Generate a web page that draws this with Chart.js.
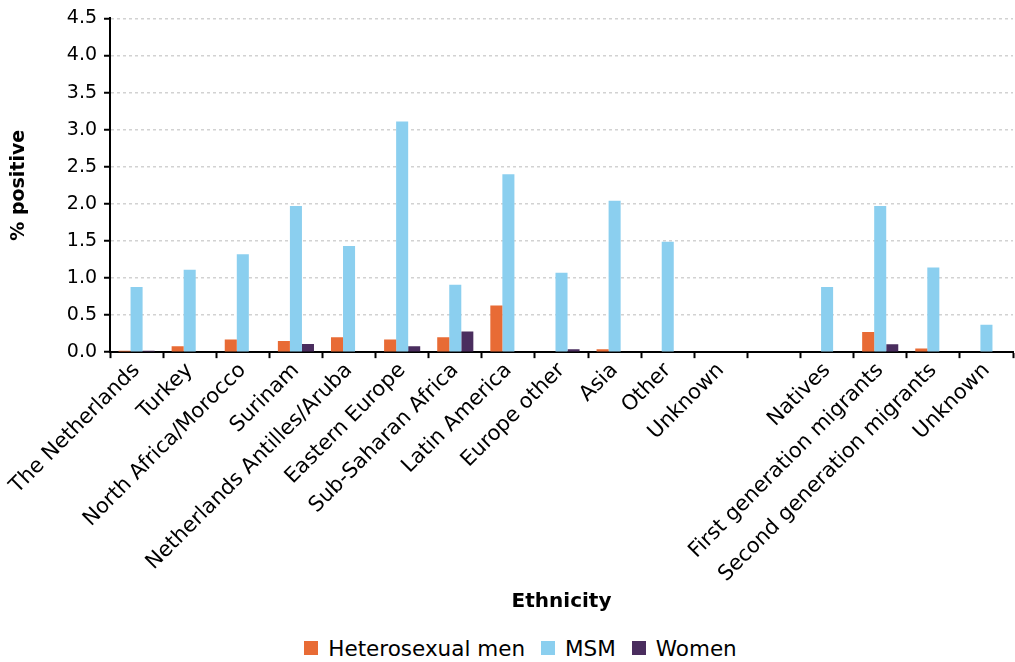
<!DOCTYPE html>
<html>
<head>
<meta charset="utf-8">
<script src="https://cdn.jsdelivr.net/npm/chart.js@4.4.0/dist/chart.umd.min.js"></script>
<style>
  html, body { margin: 0; padding: 0; background: #fff; }
  #wrap { position: relative; width: 1015px; height: 662px; overflow: hidden; }
  #chartBox { position: absolute; left: 0; top: 0; width: 1015px; height: 628px; }
  #legend {
    position: absolute; left: 0; top: 636px; width: 1015px; height: 24px;
    display: flex; justify-content: center; align-items: center;
    font-family: 'DejaVu Sans', sans-serif; font-size: 21.5px; color: #000;
    padding-left: 26px; box-sizing: border-box;
  }
  .legend-item { display: flex; align-items: center; margin: 0 8px; }
  .legend-swatch { width: 14px; height: 14px; margin-right: 10px; }
</style>
</head>
<body>
<div id="wrap">
  <div id="chartBox"><canvas id="hivChart"></canvas></div>
  <div id="legend"></div>
</div>
<script>
// Categories (empty slot separates the two groupings)
const categories = [
    'The Netherlands', 'Turkey', 'North Africa/Morocco', 'Surinam',
    'Netherlands Antilles/Aruba', 'Eastern Europe', 'Sub-Saharan Africa',
    'Latin America', 'Europe other', 'Asia', 'Other', 'Unknown', '',
    'Natives', 'First generation migrants', 'Second generation migrants', 'Unknown'
];

// % positive per group
const heteroMen = [0.02, 0.08, 0.17, 0.15, 0.20, 0.17, 0.20, 0.63, 0, 0.04, 0, 0, null, 0.01, 0.27, 0.05, 0];
const msm       = [0.88, 1.11, 1.32, 1.97, 1.43, 3.11, 0.91, 2.40, 1.07, 2.04, 1.49, 0, null, 0.88, 1.97, 1.14, 0.37];
const women     = [0.02, 0, 0, 0.11, 0, 0.08, 0.28, 0, 0.04, 0, 0, 0, null, 0.01, 0.105, 0.01, 0];

const yTicks = [0, 0.5, 1.0, 1.5, 2.0, 2.5, 3.0, 3.5, 4.0, 4.5];

const fontFamily = "'DejaVu Sans', 'Open Sans', sans-serif";

// Legend is built as html so the spacing between items can match
function buildLegend(chart) {
    const box = document.getElementById('legend');
    box.innerHTML = '';
    chart.data.datasets.forEach(ds => {
        const item = document.createElement('span');
        item.className = 'legend-item';
        const sw = document.createElement('span');
        sw.className = 'legend-swatch';
        sw.style.background = ds.backgroundColor;
        const txt = document.createElement('span');
        txt.textContent = ds.label;
        item.appendChild(sw);
        item.appendChild(txt);
        box.appendChild(item);
    });
}

function initChart() {
    const ctx = document.getElementById('hivChart').getContext('2d');

    const chart = new Chart(ctx, {
        type: 'bar',
        data: {
            labels: categories,
            datasets: [
                { label: 'Heterosexual men', data: heteroMen, backgroundColor: '#E86B35' },
                { label: 'MSM', data: msm, backgroundColor: '#8BCFEF' },
                { label: 'Women', data: women, backgroundColor: '#4A2D5E' }
            ]
        },
        options: {
            responsive: true,
            maintainAspectRatio: false,
            animation: false,
            layout: { padding: { top: 8, right: 2, left: 8, bottom: 0 } },
            datasets: {
                bar: { categoryPercentage: 0.68, barPercentage: 1.0 }
            },
            scales: {
                x: {
                    offset: true,
                    grid: {
                        drawOnChartArea: false,
                        drawTicks: true,
                        tickLength: 6,
                        tickColor: '#000',
                        tickWidth: 2,
                        offset: true
                    },
                    border: { color: '#000', width: 2 },
                    ticks: {
                        color: '#000',
                        font: { family: fontFamily, size: 21 },
                        minRotation: 45,
                        maxRotation: 45,
                        autoSkip: false,
                        padding: 0
                    },
                    title: {
                        display: true,
                        text: 'Ethnicity',
                        color: '#000',
                        font: { family: fontFamily, size: 20, weight: 'bold' },
                        padding: { top: 3, bottom: 14 }
                    }
                },
                y: {
                    min: 0,
                    max: 4.5,
                    afterBuildTicks: function(axis) {
                        axis.ticks = yTicks.map(v => ({ value: v }));
                    },
                    grid: {
                        color: '#d2d2d2',
                        lineWidth: 1.5,
                        tickBorderDash: [],
                        tickColor: '#000',
                        tickWidth: 2,
                        tickLength: 6
                    },
                    border: { color: '#000', width: 2, dash: [3, 3] },
                    ticks: {
                        color: '#000',
                        font: { family: fontFamily, size: 19 },
                        padding: 7,
                        callback: function(value) {
                            return Number(value).toFixed(1);
                        }
                    },
                    title: {
                        display: true,
                        text: '% positive',
                        color: '#000',
                        font: { family: fontFamily, size: 19, weight: 'bold' },
                        padding: { top: 0, bottom: 29 }
                    }
                }
            },
            plugins: {
                legend: { display: false },
                tooltip: { enabled: false }
            }
        }
    });

    buildLegend(chart);
}

document.addEventListener('DOMContentLoaded', initChart);
</script>
</body>
</html>
